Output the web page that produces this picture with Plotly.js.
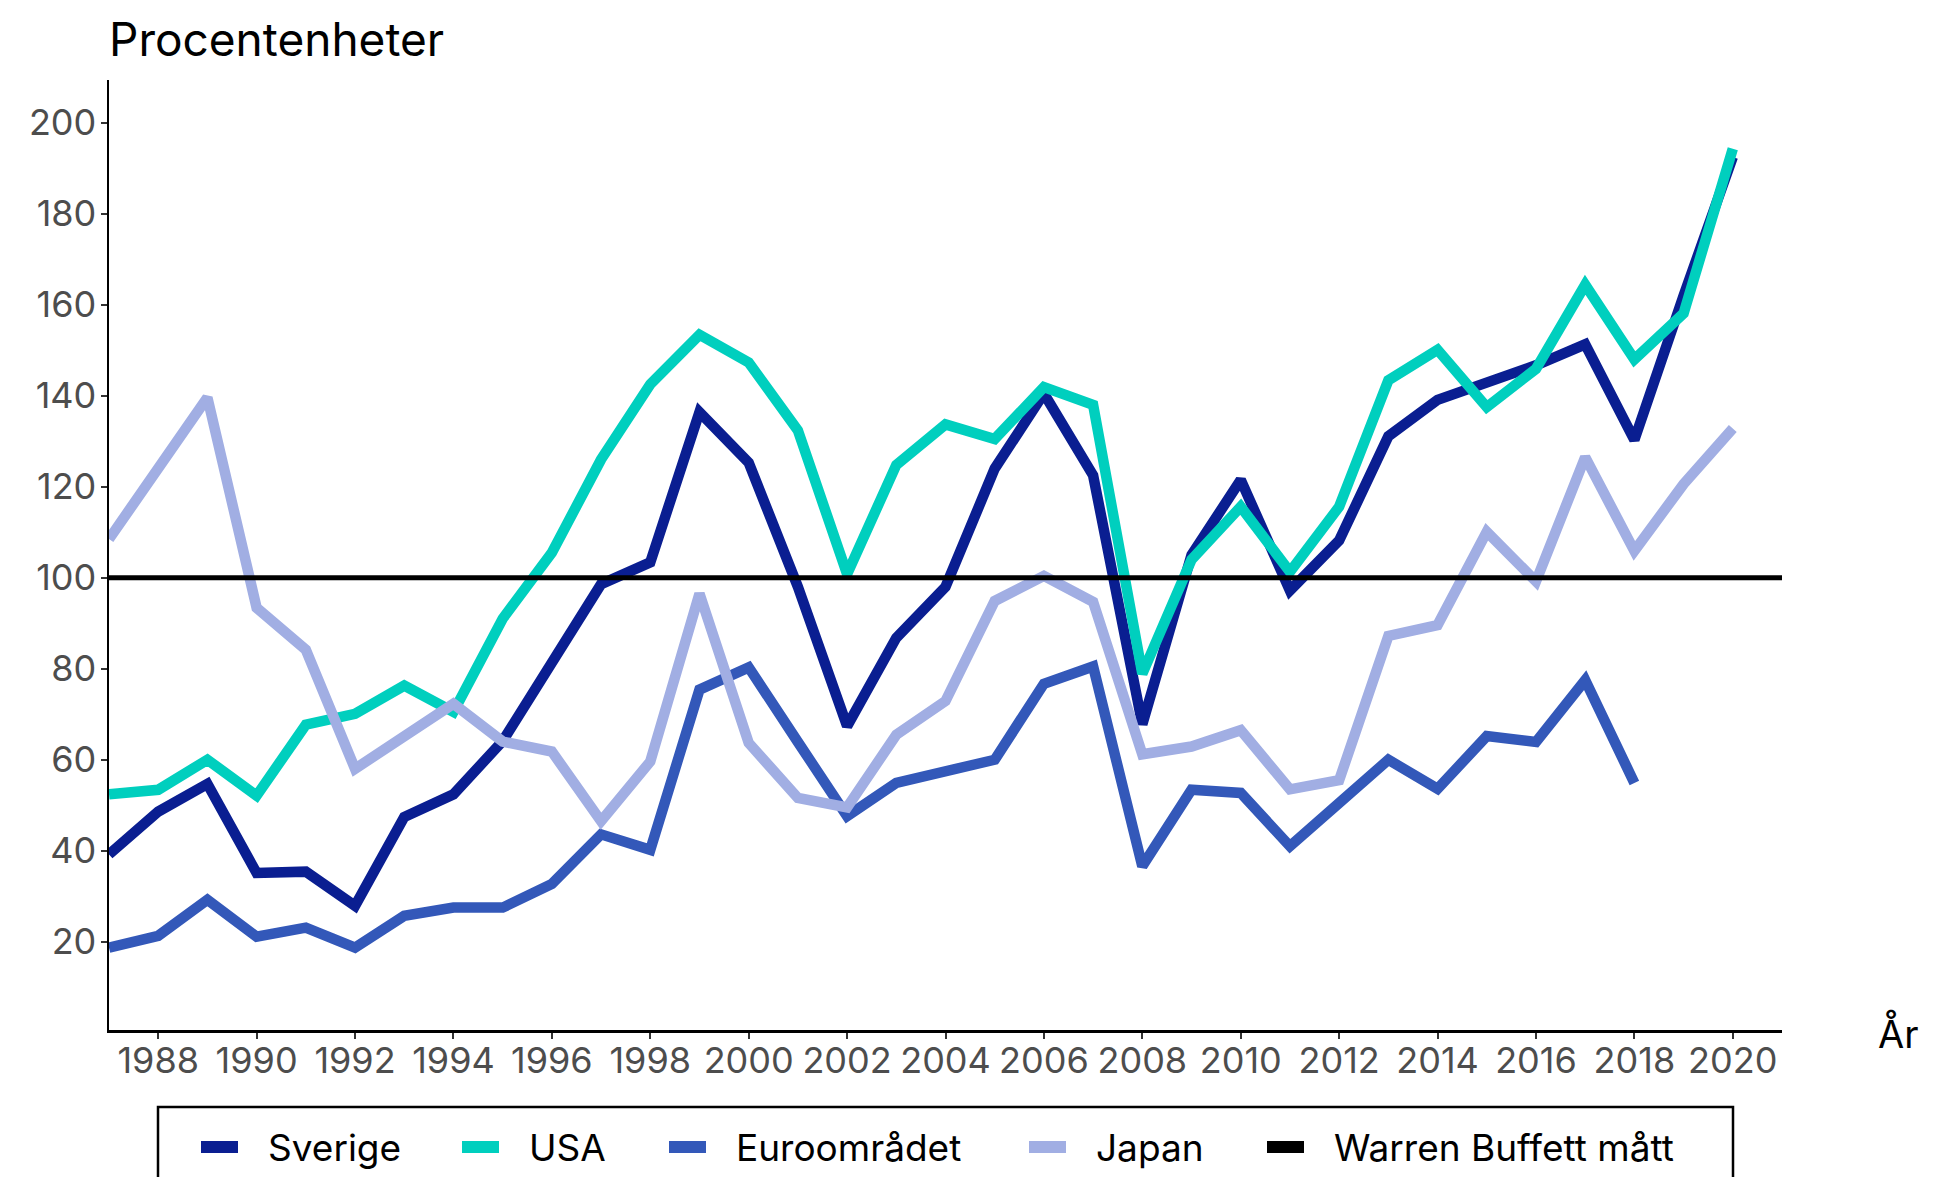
<!DOCTYPE html>
<html>
<head>
<meta charset="utf-8">
<script src="https://cdn.plot.ly/plotly-3.0.1.min.js"></script>
<style>
  html, body { margin: 0; padding: 0; background: #ffffff; }
  #chart { width: 1933px; height: 1177px; }
</style>
</head>
<body>
<div id="chart"></div>
<script>
// ---- Data ----
const years = [1987,1988,1989,1990,1991,1992,1993,1994,1995,1996,1997,1998,1999,2000,
               2001,2002,2003,2004,2005,2006,2007,2008,2009,2010,2011,2012,2013,2014,
               2015,2016,2017,2018,2019,2020];

const sverige = [39.2,48.6,54.7,35.1,35.4,27.9,47.4,52.4,64.1,81.5,98.6,103.4,136.4,125.3,
                 98.0,67.4,86.8,98.0,124.0,140.5,122.5,67.8,105.0,121.5,97.2,108.2,131.1,139.1,
                 142.7,146.7,151.3,130.3,162.0,192.5];

const usa = [52.4,53.4,60.0,52.1,67.7,70.1,76.3,70.5,91.0,105.5,126.0,142.5,153.4,147.3,
             132.4,100.8,124.8,133.7,130.5,141.9,138.0,78.9,104.0,115.6,101.3,115.6,143.4,150.1,
             137.5,145.9,164.4,148.0,158.1,194.3];

const euro = [18.7,21.3,29.2,21.1,23.1,18.7,25.7,27.5,27.5,32.7,43.6,40.2,75.4,80.3,
              63.9,47.6,54.9,57.6,60.0,76.7,80.5,36.6,53.4,52.7,41.0,50.5,60.0,53.6,
              65.2,63.9,77.5,54.9,null,null];

const japan = [108.5,124.0,139.6,93.4,84.2,58.0,65.0,72.3,64.0,61.8,46.5,59.6,96.5,63.7,
               51.6,49.5,65.5,72.9,94.9,100.4,94.7,61.2,62.9,66.5,53.5,55.5,87.2,89.6,
               110.1,99.2,126.5,105.9,120.6,132.8];

const buffettX = [1987, 2021];
const buffettY = [100, 100];

const seriesNames = ["Sverige", "USA", "Euroområdet", "Japan", "Warren Buffett mått"];
const seriesColors = ["#0A1E91", "#00CFBE", "#3358B9", "#A1AEE3", "#000000"];

const titleText = "Procentenheter";
const xTitleText = "År";

// ---- Chart ----
const FONT = "Inter, 'Noto Sans', 'DejaVu Sans', sans-serif";
const LW = 10.5;

const W = 1933, H = 1177;
const M = {l: 109, r: 151, t: 80, b: 147};
const plotW = W - M.l - M.r;   // 1673
const plotH = H - M.t - M.b;   // 950
const px2paperX = px => (px - M.l) / plotW;
const px2paperY = py => (H - M.b - py) / plotH;

const dataSets = [sverige, usa, euro, japan];
const traces = dataSets.map((ys, i) => ({
  x: years, y: ys, name: seriesNames[i], type: "scatter", mode: "lines",
  line: {color: seriesColors[i], width: LW}, showlegend: false
}));
traces.push({x: buffettX, y: buffettY, name: seriesNames[4], type: "scatter", mode: "lines",
  line: {color: seriesColors[4], width: 5}, showlegend: false});

// Legend (drawn as shapes + text, laid out like the reference's legend box)
const legendKeyX = [201, 462, 669, 1029, 1267];
const legendKeyLen = 37;
const legendTextGap = 28;
const legendY = 1147;

const shapes = [
  {type: "rect", xref: "paper", yref: "paper",
   x0: px2paperX(158), x1: px2paperX(1733),
   y0: px2paperY(1195), y1: px2paperY(1107),
   line: {color: "#000000", width: 2.5}, fillcolor: "rgba(0,0,0,0)", layer: "above"}
];
const annotations = [
  {text: xTitleText, xref: "paper", yref: "paper",
   x: px2paperX(1876), xanchor: "left",
   y: px2paperY(1033), yanchor: "middle",
   showarrow: false,
   font: {family: FONT, size: 38, color: "#000000"}}
];
seriesNames.forEach((nm, i) => {
  shapes.push({type: "line", xref: "paper", yref: "paper",
    x0: px2paperX(legendKeyX[i]), x1: px2paperX(legendKeyX[i] + legendKeyLen),
    y0: px2paperY(legendY), y1: px2paperY(legendY),
    line: {color: seriesColors[i], width: 12}, layer: "above"});
  annotations.push({text: nm, xref: "paper", yref: "paper",
    x: px2paperX(legendKeyX[i] + legendKeyLen + legendTextGap), xanchor: "left",
    y: px2paperY(legendY), yanchor: "middle", showarrow: false,
    font: {family: FONT, size: 37, color: "#000000"}});
});

const layout = {
  width: W,
  height: H,
  paper_bgcolor: "#ffffff",
  plot_bgcolor: "#ffffff",
  margin: {l: M.l, r: M.r, t: M.t, b: M.b, pad: 0},
  font: {family: FONT, size: 36, color: "#4D4D4D"},
  title: {
    text: titleText,
    font: {family: FONT, size: 46, color: "#000000"},
    x: 0, xref: "paper", xanchor: "left",
    y: 1 - 40 / H, yref: "container", yanchor: "middle",
    pad: {l: 0, t: 0, b: 0, r: 0}
  },
  xaxis: {
    range: [1987, 2021],
    tick0: 1988, dtick: 2,
    showgrid: false, zeroline: false,
    showline: true, linecolor: "#000000", linewidth: 2.5,
    ticks: "outside", ticklen: 6, tickwidth: 2, tickcolor: "#333333",
    ticklabelstandoff: -9,
    tickfont: {family: FONT, size: 36, color: "#4D4D4D"},
    fixedrange: true
  },
  yaxis: {
    range: [0.6, 209.4],
    tick0: 0, dtick: 20,
    showgrid: false, zeroline: false,
    showline: true, linecolor: "#000000", linewidth: 2.5,
    ticks: "outside", ticklen: 6, tickwidth: 2, tickcolor: "#333333",
    ticklabelstandoff: -3,
    tickfont: {family: FONT, size: 36, color: "#4D4D4D"},
    fixedrange: true
  },
  showlegend: false,
  shapes: shapes,
  annotations: annotations
};

Plotly.newPlot("chart", traces, layout, {displayModeBar: false, staticPlot: true});
</script>
</body>
</html>
